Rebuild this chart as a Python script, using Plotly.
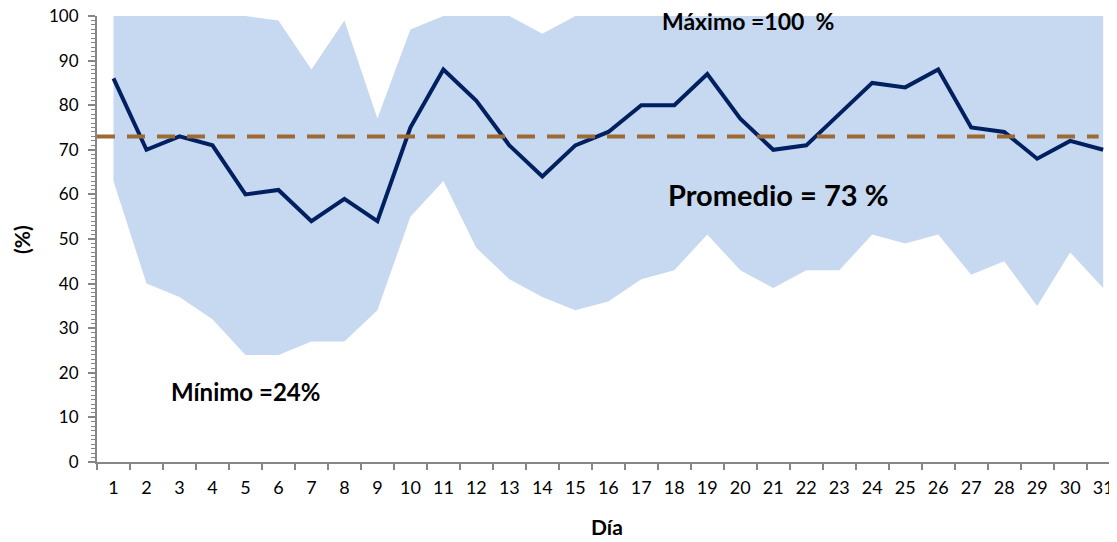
import plotly.graph_objects as go

days = [str(d) for d in range(1, 32)]
promedio_diario = [86, 70, 73, 71, 60, 61, 54, 59, 54, 75, 88, 81, 71, 64, 71, 74,
                   80, 80, 87, 77, 70, 71, 78, 85, 84, 88, 75, 74, 68, 72, 70]
maximo = [100, 100, 100, 100, 100, 99, 88, 99, 77, 97, 100, 100, 100, 96, 100, 100,
          100, 100, 100, 100, 100, 100, 100, 100, 100, 100, 100, 100, 100, 100, 100]
minimo = [63, 40, 37, 32, 24, 24, 27, 27, 34, 55, 63, 48, 41, 37, 34, 36,
          41, 43, 51, 43, 39, 43, 43, 51, 49, 51, 42, 45, 35, 47, 39]
promedio_general = 73

FONT = "Lato"

fig = go.Figure()
fig.add_trace(go.Scatter(x=days, y=minimo, mode="lines", line=dict(width=0),
                         showlegend=False, hoverinfo="skip"))
fig.add_trace(go.Scatter(x=days, y=maximo, mode="lines", line=dict(width=0),
                         fill="tonexty", fillcolor="#C6D9F0", showlegend=False))
fig.add_shape(type="line", xref="paper", yref="y", x0=0, x1=0.982,
              y0=promedio_general, y1=promedio_general,
              line=dict(color="#9C6B35", width=4, dash="18px,12px"), layer="above")
fig.add_trace(go.Scatter(x=days, y=promedio_diario, mode="lines",
                         line=dict(color="#002060", width=4), showlegend=False))

# page body has an 8px margin, so the figure is offset by 8px
fig.update_layout(
    width=1109, height=534,
    margin=dict(l=89, r=0, t=8, b=80),
    plot_bgcolor="white", paper_bgcolor="white",
    font=dict(family=FONT, size=17, color="black"),
    xaxis=dict(type="category", range=[-0.5, 30.42], showgrid=False, automargin=False,
               showline=True, linecolor="#868686", linewidth=2,
               ticks="outside", ticklen=6, tickwidth=2, tickcolor="#868686",
               tickson="boundaries", tickfont=dict(size=18), ticklabelstandoff=8,
               ticklabeloverflow="allow"),
    yaxis=dict(range=[0, 100], showgrid=False, zeroline=False, automargin=False,
               showline=True, linecolor="#868686", linewidth=2,
               tickvals=list(range(0, 101, 10)),
               ticks="outside", ticklen=7, tickwidth=2, tickcolor="#868686",
               minor=dict(dtick=1, ticks="outside", ticklen=4, tickwidth=1, tickcolor="#868686"),
               tickfont=dict(size=17), ticklabelstandoff=6, ticklabeloverflow="allow"),
    annotations=[
        dict(text="<b>Máximo =100  %</b>", x=0.638, y=98.9, xref="paper", yref="y",
             xanchor="center", yanchor="middle", showarrow=False, font=dict(size=23)),
        dict(text="<b>Promedio = 73 %</b>", x=0.668, y=60, xref="paper", yref="y",
             xanchor="center", yanchor="middle", showarrow=False, font=dict(size=29)),
        dict(text="<b>Mínimo =24%</b>", x=0.146, y=15.7, xref="paper", yref="y",
             xanchor="center", yanchor="middle", showarrow=False, font=dict(size=24)),
        dict(text="<b>Día</b>", x=0.5, y=-0.1435, xref="paper", yref="paper",
             xanchor="center", yanchor="middle", showarrow=False, font=dict(size=21)),
        dict(text="<b>(%)</b>", x=-0.0735, y=0.498, xref="paper", yref="paper",
             xanchor="center", yanchor="middle", showarrow=False, textangle=-90,
             font=dict(size=21)),
    ],
)

fig.write_html("out.html")
